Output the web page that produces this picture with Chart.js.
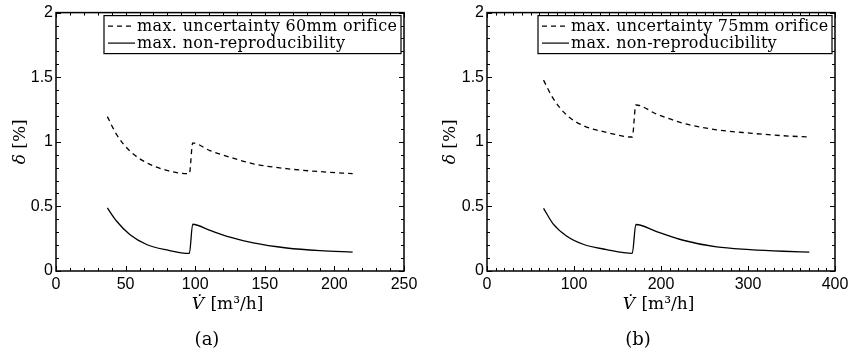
<!DOCTYPE html>
<html>
<head>
<meta charset="utf-8">
<script src="https://cdn.jsdelivr.net/npm/chart.js@4/dist/chart.umd.min.js"></script>
<style>
  html, body { margin: 0; padding: 0; background: #fff; }
  #wrap { position: relative; width: 856px; height: 358px; }
  #wrap canvas { position: absolute; top: 0; }
  #chartA { left: 0; }
  #chartB { left: 430px; }
</style>
</head>
<body>
<div id="wrap">
  <canvas id="chartA" width="430" height="358"></canvas>
  <canvas id="chartB" width="426" height="358"></canvas>
</div>
<script>
// ===== DATA =====
// (a) 60mm orifice
const flowA        = [36.9, 43.6, 53.2, 65.1, 79.5, 95.8, 98.2, 110.6, 125, 141.7, 165.7, 189.7, 213.1];
const uncertA      = [1.195, 1.055, 0.927, 0.838, 0.779, 0.753, 0.991, 0.932, 0.881, 0.830, 0.792, 0.769, 0.753];
const reproA       = [0.488, 0.385, 0.280, 0.205, 0.163, 0.136, 0.362, 0.314, 0.262, 0.217, 0.178, 0.157, 0.146];
const xTicksA      = [0, 50, 100, 150, 200, 250];

// (b) 75mm orifice
const flowB        = [65, 76, 91.4, 110.5, 137.4, 167, 171.1, 194.9, 225.5, 263.9, 302.3, 340.6, 370.5];
const uncertB      = [1.477, 1.336, 1.208, 1.126, 1.073, 1.037, 1.285, 1.215, 1.144, 1.093, 1.067, 1.047, 1.037];
const reproB       = [0.485, 0.365, 0.271, 0.207, 0.166, 0.137, 0.360, 0.305, 0.238, 0.186, 0.166, 0.153, 0.146];
const xTicksB      = [0, 100, 200, 300, 400];

const yTicks       = [0, 0.5, 1, 1.5, 2];
const labelUncA    = 'max. uncertainty 60mm orifice';
const labelUncB    = 'max. uncertainty 75mm orifice';
const labelRepro   = 'max. non-reproducibility';

const SANS  = '"Liberation Sans", Arial, sans-serif';
const SERIF = '"DejaVu Serif", "Liberation Serif", serif';

// ===== MATLAB-STYLE FRAME, INWARD TICKS, LEGEND, TITLES =====
const framePlugin = {
  id: 'frame',
  afterDraw(chart, args, opts) {
    const ctx = chart.ctx;
    const a = chart.chartArea;
    const xs = chart.scales.x, ys = chart.scales.y;
    ctx.save();
    ctx.strokeStyle = '#000';

    // inward ticks on all four sides
    ctx.lineWidth = 1;
    ctx.beginPath();
    for (let v = xs.min; v <= xs.max + 1e-9; v += opts.xMinor) {
      const isMajor = Math.abs(v / opts.xMajor - Math.round(v / opts.xMajor)) < 1e-6;
      const len = isMajor ? 5 : 3;
      const px = Math.round(xs.getPixelForValue(v)) + 0.5;
      ctx.moveTo(px, a.bottom); ctx.lineTo(px, a.bottom - len);
      ctx.moveTo(px, a.top);    ctx.lineTo(px, a.top + len);
    }
    for (let v = ys.min; v <= ys.max + 1e-9; v += 0.1) {
      const isMajor = Math.abs(v / 0.5 - Math.round(v / 0.5)) < 1e-6;
      const len = isMajor ? 5 : 3;
      const py = Math.round(ys.getPixelForValue(v)) + 0.5;
      ctx.moveTo(a.left, py);  ctx.lineTo(a.left + len, py);
      ctx.moveTo(a.right, py); ctx.lineTo(a.right - len, py);
    }
    ctx.stroke();

    // box
    ctx.lineWidth = 1.5;
    ctx.strokeRect(a.left, a.top, a.right - a.left, a.bottom - a.top);

    // legend box
    const lw = opts.legendWidth, lh = 38;
    const lx = a.right - 3 - lw, ly = a.top + 3;
    ctx.fillStyle = '#fff';
    ctx.fillRect(lx, ly, lw, lh);
    ctx.lineWidth = 1.2;
    ctx.strokeRect(lx, ly, lw, lh);

    // first entry's text ends ~4px from the box's right edge
    ctx.font = '16px ' + SERIF;
    const first = chart.data.datasets[0].label;
    const natural = ctx.measureText(first).width;
    const target = lw - 37;
    const spacing = Math.max(-0.5, (target - natural) / first.length);

    chart.data.datasets.forEach((ds, i) => {
      const yy = ly + 10.5 + i * 17;
      ctx.beginPath();
      ctx.lineWidth = 1.2;
      ctx.setLineDash(ds.borderDash || []);
      ctx.moveTo(lx + 4, yy); ctx.lineTo(lx + 31, yy);
      ctx.stroke();
      ctx.setLineDash([]);
      ctx.fillStyle = '#000';
      ctx.font = '16px ' + SERIF;
      if ('letterSpacing' in ctx) ctx.letterSpacing = spacing.toFixed(2) + 'px';
      ctx.textBaseline = 'alphabetic';
      ctx.textAlign = 'left';
      ctx.fillText(ds.label, lx + 33, ly + 15.5 + i * 16.5);
      if ('letterSpacing' in ctx) ctx.letterSpacing = '0px';
    });

    // axis titles
    ctx.fillStyle = '#000';
    const cx = (a.left + a.right) / 2 - 3;
    ctx.textBaseline = 'alphabetic';
    ctx.textAlign = 'left';
    ctx.font = 'italic 17px ' + SERIF;
    const vPart = 'V\u0307';
    const w1 = ctx.measureText(vPart).width;
    ctx.font = '17px ' + SERIF;
    const rest = ' [m\u00B3/h]';
    const w2 = ctx.measureText(rest).width;
    const tx = cx - (w1 + w2) / 2;
    ctx.font = 'italic 17px ' + SERIF;
    ctx.fillText(vPart, tx, 309);
    ctx.font = '17px ' + SERIF;
    ctx.fillText(rest, tx + w1 + 1, 309);

    ctx.save();
    ctx.translate(25, (a.top + a.bottom) / 2);
    ctx.rotate(-Math.PI / 2);
    ctx.font = 'italic 17px ' + SERIF;
    const d1 = '\u03B4';
    const dw1 = ctx.measureText(d1).width;
    ctx.font = '17px ' + SERIF;
    const d2 = ' [%]';
    const dw2 = ctx.measureText(d2).width;
    ctx.font = 'italic 17px ' + SERIF;
    ctx.fillText(d1, -(dw1 + dw2) / 2, 0);
    ctx.font = '17px ' + SERIF;
    ctx.fillText(d2, -(dw1 + dw2) / 2 + dw1, 0);
    ctx.restore();

    // caption
    ctx.font = '18px ' + SERIF;
    ctx.textAlign = 'center';
    ctx.fillText(opts.caption, opts.captionX, 345);
    ctx.restore();
  }
};

function makePanel(id, flow, uncert, repro, xTicks, uncLabel, opts) {
  const toPts = (xs, ys) => xs.map((x, i) => ({ x: x, y: ys[i] }));
  return new Chart(document.getElementById(id), {
    type: 'line',
    data: {
      datasets: [
        { label: uncLabel,   data: toPts(flow, uncert), borderColor: '#000', borderWidth: 1.3, borderDash: [5, 4],
          pointRadius: 0, fill: false, cubicInterpolationMode: 'monotone' },
        { label: labelRepro, data: toPts(flow, repro),  borderColor: '#000', borderWidth: 1.3,
          pointRadius: 0, fill: false, cubicInterpolationMode: 'monotone' }
      ]
    },
    options: {
      responsive: false,
      animation: false,
      devicePixelRatio: 1,
      layout: { padding: { top: 10, bottom: 43, right: opts.padRight, left: 0 } },
      plugins: {
        legend: { display: false },
        tooltip: { enabled: false },
        frame: opts
      },
      scales: {
        x: {
          type: 'linear',
          min: xTicks[0], max: xTicks[xTicks.length - 1],
          grid: { display: false, drawTicks: false, tickLength: 0 },
          border: { display: false },
          afterBuildTicks: s => { s.ticks = xTicks.map(v => ({ value: v })); },
          afterFit: s => { s.height = 44; },
          ticks: { color: '#000', font: { family: SANS, size: 16 }, padding: 4, maxRotation: 0, autoSkip: false,
                   callback: v => String(v) }
        },
        y: {
          type: 'linear',
          min: 0, max: 2,
          grid: { display: false, drawTicks: false, tickLength: 0 },
          border: { display: false },
          afterBuildTicks: s => { s.ticks = yTicks.map(v => ({ value: v })); },
          afterFit: s => { s.width = opts.yWidth; },
          ticks: { color: '#000', font: { family: SANS, size: 16 }, padding: 3,
                   callback: v => String(v) }
        }
      }
    },
    plugins: [framePlugin]
  });
}

makePanel('chartA', flowA, uncertA, reproA, xTicksA, labelUncA,
  { padRight: 26, yWidth: 56, xMajor: 50, xMinor: 10, legendWidth: 297, caption: '(a)', captionX: 207 });
makePanel('chartB', flowB, uncertB, reproB, xTicksB, labelUncB,
  { padRight: 21, yWidth: 57, xMajor: 100, xMinor: 10, legendWidth: 294, caption: '(b)', captionX: 208 });
</script>
</body>
</html>
